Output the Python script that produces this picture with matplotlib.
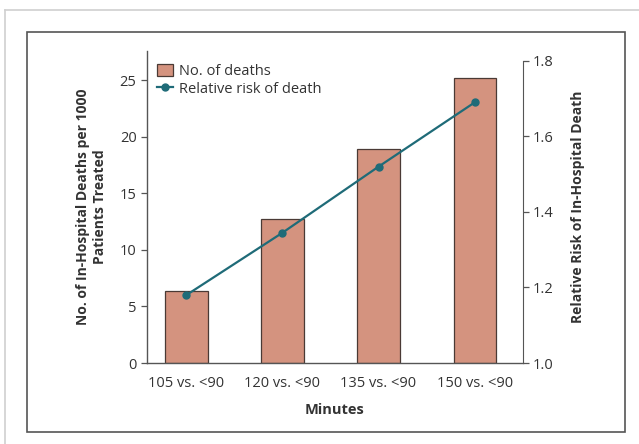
import matplotlib
matplotlib.use("Agg")
import matplotlib.pyplot as plt
from matplotlib.patches import Rectangle
from matplotlib.lines import Line2D

plt.rcParams['font.family'] = ['Open Sans', 'DejaVu Sans']

categories = ["105 vs. <90", "120 vs. <90", "135 vs. <90", "150 vs. <90"]
deaths = [6.4, 12.7, 18.9, 25.2]
rel_risk = [1.18, 1.345, 1.52, 1.69]

bar_color = "#d4937f"
edge_color = "#4a3a35"
line_color = "#1f6b78"
text_color = "#333333"

fig = plt.figure(figsize=(6.39, 4.44), dpi=100)

# outer light border and dark frame
fig.add_artist(Line2D([5 / 639, 1], [1 - 10 / 444, 1 - 10 / 444], color="#d0d0d0", lw=1.2))
fig.add_artist(Line2D([5 / 639, 5 / 639], [0, 1 - 10 / 444], color="#d0d0d0", lw=1.2))
fig.add_artist(Rectangle((27 / 639, 1 - 432 / 444), (625 - 27) / 639, (432 - 32) / 444,
                         fill=False, ec="#555555", lw=1.2))

ax = fig.add_axes([0.230, 0.1824, 0.588, 0.703])
x = list(range(len(categories)))
bars = ax.bar(x, deaths, width=0.44, color=bar_color, edgecolor=edge_color, linewidth=0.9,
              label="No. of deaths")
ax.set_xlim(-0.41, 3.5)
ax.set_ylim(0, 27.6)
ax.set_yticks([0, 5, 10, 15, 20, 25])
ax.set_xticks(x)
ax.set_xticklabels(categories)
for s in ["top", "right"]:
    ax.spines[s].set_visible(False)
for s in ["left", "bottom"]:
    ax.spines[s].set_color("#555555")
    ax.spines[s].set_linewidth(1.0)
ax.tick_params(axis="x", length=0, pad=9, labelsize=10.5, colors=text_color)
ax.tick_params(axis="y", length=4, width=0.9, color="#555555", labelsize=10.5, labelcolor=text_color)
ax.set_xlabel("Minutes", fontweight="bold", fontsize=10.5, color=text_color, labelpad=9)
ax.set_ylabel("No. of In-Hospital Deaths per 1000\nPatients Treated", fontweight="bold",
              fontsize=10, color=text_color, labelpad=9, linespacing=1.25)

ax2 = ax.twinx()
ax2.plot(x, rel_risk, color=line_color, lw=1.6, marker="o", markersize=5,
         label="Relative risk of death")
ax2.set_ylim(1.0, 1.0 + 0.8 * (363 - 51) / 302)
ax2.set_yticks([1.0, 1.2, 1.4, 1.6, 1.8])
ax2.set_yticklabels(["1.0", "1.2", "1.4", "1.6", "1.8"])
for s in ["top", "left", "bottom"]:
    ax2.spines[s].set_visible(False)
ax2.spines["right"].set_bounds(1.0, 1.8)
ax2.spines["right"].set_color("#555555")
ax2.tick_params(axis="y", length=4, width=0.9, color="#555555", labelsize=10.5, labelcolor=text_color)
ax2.set_ylabel("Relative Risk of In-Hospital Death", fontweight="bold", fontsize=10,
               color=text_color, labelpad=12)

h1, l1 = ax.get_legend_handles_labels()
h2, l2 = ax2.get_legend_handles_labels()
ax2.legend(h1 + h2, l1 + l2, loc="upper left", bbox_to_anchor=(0.0, 0.992), frameon=False,
           fontsize=10.5, handlelength=1.1, handleheight=0.9, handletextpad=0.4,
           borderaxespad=0.3, labelspacing=0.2, labelcolor=text_color)

fig.savefig("out.png", dpi=100)
